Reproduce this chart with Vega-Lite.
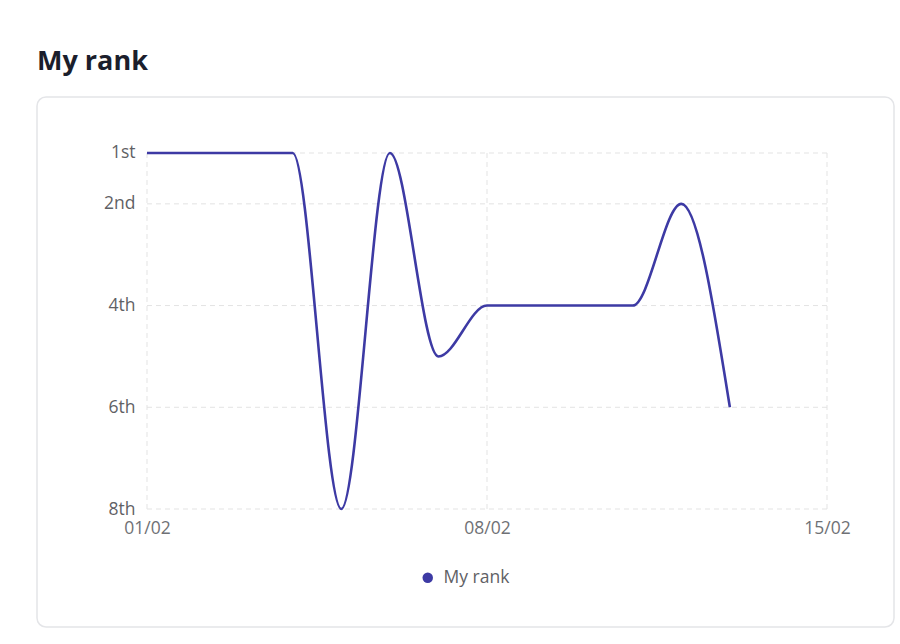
{
  "$schema": "https://vega.github.io/schema/vega-lite/v6.json",
  "autosize": {"type": "none"},
  "width": 857,
  "height": 530,
  "padding": {"left": 37, "top": 97, "right": 6, "bottom": 17},
  "background": "white",
  "title": {
    "text": "My rank",
    "anchor": "start",
    "font": "Open Sans",
    "fontSize": 27,
    "fontWeight": 700,
    "color": "#1b1e2c",
    "baseline": "alphabetic",
    "offset": 0
  },
  "config": {
    "view": {"stroke": "#e4e5e8", "strokeWidth": 1.5, "cornerRadius": 9, "fill": "white"},
    "font": "Open Sans"
  },
  "datasets": {
    "rank": [
      {"date": "2024-02-01", "rank": 1, "series": "My rank"},
      {"date": "2024-02-02", "rank": 1, "series": "My rank"},
      {"date": "2024-02-03", "rank": 1, "series": "My rank"},
      {"date": "2024-02-04", "rank": 1, "series": "My rank"},
      {"date": "2024-02-05", "rank": 8, "series": "My rank"},
      {"date": "2024-02-06", "rank": 1, "series": "My rank"},
      {"date": "2024-02-07", "rank": 5, "series": "My rank"},
      {"date": "2024-02-08", "rank": 4, "series": "My rank"},
      {"date": "2024-02-09", "rank": 4, "series": "My rank"},
      {"date": "2024-02-10", "rank": 4, "series": "My rank"},
      {"date": "2024-02-11", "rank": 4, "series": "My rank"},
      {"date": "2024-02-12", "rank": 2, "series": "My rank"},
      {"date": "2024-02-13", "rank": 6, "series": "My rank"}
    ],
    "yticks": [{"rank": 1}, {"rank": 2}, {"rank": 4}, {"rank": 6}, {"rank": 8}],
    "xticks": [{"date": "2024-02-01"}, {"date": "2024-02-08"}, {"date": "2024-02-15"}]
  },
  "layer": [
    {
      "data": {"name": "yticks"},
      "mark": {"type": "rule", "stroke": "#e3e3e3", "strokeWidth": 1, "strokeDash": [5, 4]},
      "encoding": {
        "y": {"field": "rank", "type": "quantitative"},
        "x": {"datum": {"year": 2024, "month": 2, "date": 1, "utc": true}, "type": "temporal"},
        "x2": {"datum": {"year": 2024, "month": 2, "date": 15, "utc": true}}
      }
    },
    {
      "data": {"name": "xticks"},
      "mark": {"type": "rule", "stroke": "#e3e3e3", "strokeWidth": 1, "strokeDash": [5, 4]},
      "encoding": {
        "x": {"field": "date", "type": "temporal"},
        "y": {"datum": 1, "type": "quantitative"},
        "y2": {"datum": 8}
      }
    },
    {
      "data": {"name": "rank"},
      "mark": {"type": "line", "interpolate": "monotone", "strokeWidth": 2.6},
      "encoding": {
        "x": {
          "field": "date",
          "type": "temporal",
          "scale": {
            "type": "utc",
            "domain": [
              {"year": 2024, "month": 1, "date": 29, "hours": 17, "minutes": 39, "utc": true},
              {"year": 2024, "month": 2, "date": 16, "hours": 9, "minutes": 6, "utc": true}
            ]
          },
          "axis": {
            "title": null,
            "offset": -118,
            "domain": false,
            "ticks": false,
            "grid": false,
            "values": [
              {"year": 2024, "month": 2, "date": 1, "utc": true},
              {"year": 2024, "month": 2, "date": 8, "utc": true},
              {"year": 2024, "month": 2, "date": 15, "utc": true}
            ],
            "format": "%d/%m",
            "labelFontSize": 17.5,
            "labelColor": "#6f7175",
            "labelPadding": 10,
            "labelFont": "Open Sans"
          }
        },
        "y": {
          "field": "rank",
          "type": "quantitative",
          "scale": {"domain": [-0.1011, 10.3202], "reverse": true, "nice": false, "zero": false},
          "axis": {
            "title": null,
            "offset": -110,
            "domain": false,
            "ticks": false,
            "grid": false,
            "values": [1, 2, 4, 6, 8],
            "labelExpr": "datum.value == 1 ? '1st' : datum.value == 2 ? '2nd' : datum.value + 'th'",
            "labelFontSize": 17.5,
            "labelColor": "#5f6165",
            "labelPadding": 12,
            "labelFont": "Open Sans"
          }
        },
        "color": {
          "field": "series",
          "type": "nominal",
          "scale": {"range": ["#3d3aa4"]},
          "legend": {
            "title": null,
            "orient": "none",
            "legendX": 382,
            "legendY": 472,
            "symbolType": "circle",
            "symbolSize": 110,
            "symbolFillColor": "#3d3aa4",
            "symbolStrokeWidth": 0,
            "labelFontSize": 17.5,
            "labelColor": "#5f6165",
            "labelFont": "Open Sans",
            "labelOffset": 7
          }
        }
      }
    }
  ]
}
